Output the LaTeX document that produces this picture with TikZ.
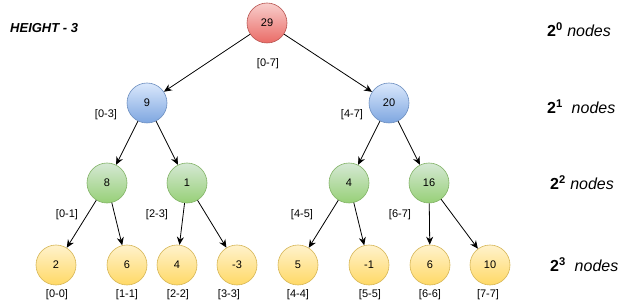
\documentclass[tikz,border=0pt]{standalone}
\usepackage{fontspec}
\setmainfont{Liberation Sans}
\usepackage{xcolor}
\definecolor{stredtop}{HTML}{F8CECC}
\definecolor{stredbot}{HTML}{EA6B66}
\definecolor{stredline}{HTML}{B85450}
\definecolor{stbluetop}{HTML}{DAE8FC}
\definecolor{stbluebot}{HTML}{7EA6E0}
\definecolor{stblueline}{HTML}{6C8EBF}
\definecolor{stgreentop}{HTML}{D5E8D4}
\definecolor{stgreenbot}{HTML}{97D077}
\definecolor{stgreenline}{HTML}{82B366}
\definecolor{styellowtop}{HTML}{FFF2CC}
\definecolor{styellowbot}{HTML}{FFD966}
\definecolor{styellowline}{HTML}{D6B656}
\usetikzlibrary{arrows.meta}

\begin{document}
\begin{tikzpicture}[x=1pt, y=-1pt,
  seg/.style={circle, minimum size=40pt, inner sep=0pt, line width=0.6pt,
              font=\fontsize{11}{13}\selectfont},
  segred/.style={seg, draw=stredline, top color=stredtop, bottom color=stredbot},
  segblue/.style={seg, draw=stblueline, top color=stbluetop, bottom color=stbluebot},
  seggreen/.style={seg, draw=stgreenline, top color=stgreentop, bottom color=stgreenbot},
  segyellow/.style={seg, draw=styellowline, top color=styellowtop, bottom color=styellowbot},
  seglabel/.style={inner sep=0pt, font=\fontsize{11}{13}\selectfont},
  levelnote/.style={anchor=west, inner sep=0pt, font=\fontsize{16}{18}\selectfont},
  link/.style={-{Stealth[length=8pt,width=7pt]}, line width=0.8pt}]

\useasboundingbox (0,0) rectangle (632,307);

% --- Title ---
\node[anchor=west, inner sep=0pt, font=\fontsize{13}{15}\selectfont\bfseries\itshape]
     (height) at (10,28) {HEIGHT - 3};

% --- Level 0 ---
\node[segred] (s07) at (267,23) {29};
\node[seglabel] (r07) at (268,64) {[0-7]};

% --- Level 1 ---
\node[segblue] (s03) at (147,103) {9};
\node[segblue] (s47) at (389,103) {20};
\node[seglabel] (r03) at (106,115) {[0-3]};
\node[seglabel] (r47) at (352,115) {[4-7]};

% --- Level 2 ---
\node[seggreen] (s01) at (107,183) {8};
\node[seggreen] (s23) at (187,183) {1};
\node[seggreen] (s45) at (349,183) {4};
\node[seggreen] (s67) at (429,183) {16};
\node[seglabel] (r01) at (67,215) {[0-1]};
\node[seglabel] (r23) at (157,215) {[2-3]};
\node[seglabel] (r45) at (302,215) {[4-5]};
\node[seglabel] (r67) at (400,215) {[6-7]};

% --- Level 3 (leaves) ---
\node[segyellow] (s00) at (56,265) {2};
\node[segyellow] (s11) at (127,265) {6};
\node[segyellow] (s22) at (177,265) {4};
\node[segyellow] (s33) at (237,265) {-3};
\node[segyellow] (s44) at (298,265) {5};
\node[segyellow] (s55) at (369,265) {-1};
\node[segyellow] (s66) at (430,265) {6};
\node[segyellow] (s77) at (490,265) {10};
\node[seglabel] (r00) at (57,295) {[0-0]};
\node[seglabel] (r11) at (127,295) {[1-1]};
\node[seglabel] (r22) at (178,295) {[2-2]};
\node[seglabel] (r33) at (229,295) {[3-3]};
\node[seglabel] (r44) at (298,295) {[4-4]};
\node[seglabel] (r55) at (370,295) {[5-5]};
\node[seglabel] (r66) at (430,295) {[6-6]};
\node[seglabel] (r77) at (488,295) {[7-7]};

% --- Edges ---
\draw[link] (s07) -- (s03);
\draw[link] (s07) -- (s47);
\draw[link] (s03) -- (s01);
\draw[link] (s03) -- (s23);
\draw[link] (s47) -- (s45);
\draw[link] (s47) -- (s67);
\draw[link] (s01) -- (s00);
\draw[link] (s01) -- (s11);
\draw[link] (s23) -- (s22);
\draw[link] (s23) -- (s33);
\draw[link] (s45) -- (s44);
\draw[link] (s45) -- (s55);
\draw[link] (s67) -- (s66);
\draw[link] (s67) -- (s77);

% --- Node counts per level ---
\node[levelnote] (c0) at (547,30) {\textbf{2\textsuperscript{0}} \textit{nodes}};
\node[levelnote] (c1) at (547,107) {\textbf{2\textsuperscript{1}}\ \ \textit{nodes}};
\node[levelnote] (c2) at (550,183) {\textbf{2\textsuperscript{2}} \textit{nodes}};
\node[levelnote] (c3) at (550,265) {\textbf{2\textsuperscript{3}}\ \ \textit{nodes}};

\end{tikzpicture}
\end{document}
